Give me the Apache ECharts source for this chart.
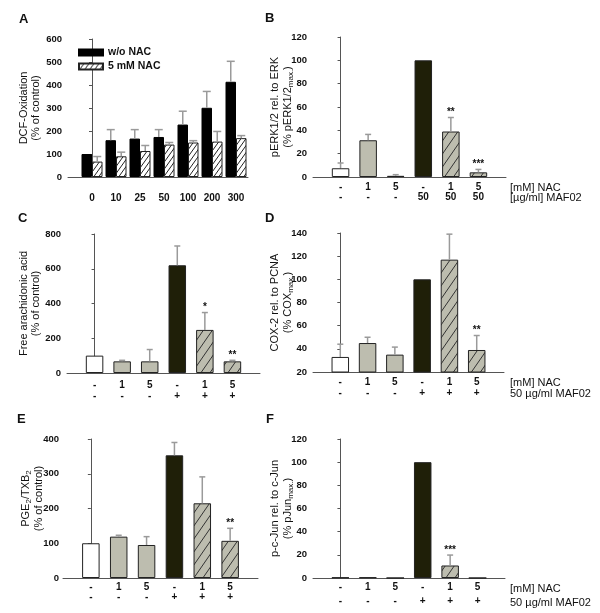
<!DOCTYPE html>
<html><head><meta charset="utf-8">
<script src="https://cdn.jsdelivr.net/npm/echarts@6/dist/echarts.min.js"></script>
<style>html,body{margin:0;padding:0;background:#fff}#c{width:600px;height:613px}</style>
</head><body><div id="c"></div>
<script>
// ---------- DATA ----------
const doseLabels = ['0','10','25','50','100','200','300'];
const aNoNAC = [100, 160, 167, 174, 228, 301, 414];
const aNoNACErr = [0, 46, 39, 32, 58, 71, 89];
const aNAC = [67, 90, 113, 141, 150, 154, 169];
const aNACErr = [22, 18, 24, 9, 8, 44, 11];

const nacRow = ['-','1','5','-','1','5'];
const mafRowB = ['-','-','-','50','50','50'];
const mafRowPM = ['-','-','-','+','+','+'];

const bVals = [7.5, 31.5, 1, 100, 39, 4];
const bErr = [4.5, 5, 1, 0, 12, 2.5];
const bStars = ['', '', '', '', '**', '***'];

const cVals = [100, 67, 67, 620, 248, 67];
const cErr = [0, 6, 68, 111, 100, 6];
const cStars = ['', '', '', '', '*', '**'];

const dVals = [33, 45, 35, 100, 117, 39];
const dErr = [11, 5, 6.5, 0, 22, 12.5];
const dStars = ['', '', '', '', '', '**'];

const eVals = [100, 119, 95, 353, 215, 107];
const eErr = [0, 4, 24, 37, 76, 36];
const eStars = ['', '', '', '', '', '**'];

const fVals = [0.4, 0.5, 0, 100, 10.8, 0];
const fErr = [0, 0, 0, 0, 9, 0];
const fStars = ['', '', '', '', '***', ''];

// ---------- STYLE ----------
const FONT = 'Liberation Sans, Arial, sans-serif';
const TXT = '#111';
const AXC = '#555';
const GRAY = '#bdbdaf';
const DARK = '#1f1f08';
const EB = '#9a9a9a';

function hatch(bg, line, w, h, lw) {
  const c = document.createElement('canvas');
  c.width = w; c.height = h;
  const g = c.getContext('2d');
  g.fillStyle = bg; g.fillRect(0, 0, w, h);
  g.strokeStyle = line; g.lineWidth = lw;
  for (const dx of [-w, 0, w]) { g.beginPath(); g.moveTo(dx, h); g.lineTo(dx + w, 0); g.stroke(); }
  return {image: c, repeat: 'repeat'};
}
const hatchA = hatch('#ffffff', '#222', 5, 7, 1);
const hatchGray = hatch(GRAY, '#333', 9, 13, 1);
const kindStyles = [
  {color: '#ffffff'}, {color: GRAY}, {color: GRAY}, {color: DARK}, {color: hatchGray}, {color: hatchGray}
];

const chart = echarts.init(document.getElementById('c'), null, {renderer: 'canvas'});

const grids = [
  {left: 68, top: 39, width: 180, height: 138},
  {left: 313, top: 37, width: 193, height: 140},
  {left: 67, top: 234, width: 193, height: 139},
  {left: 313, top: 233, width: 191, height: 139},
  {left: 63, top: 439, width: 195, height: 139},
  {left: 313, top: 439, width: 192, height: 139}
];

const richName = {
  n: {fontSize: 11, fontFamily: FONT, color: TXT, lineHeight: 12, verticalAlign: 'middle'},
  s: {fontSize: 8, fontFamily: FONT, color: TXT, lineHeight: 13.5, verticalAlign: 'bottom'}
};

function yAxis(i, min, max, interval, name, gap, pad, lblMargin) {
  return {
    type: 'value', gridIndex: i, min, max, interval,
    name, nameLocation: 'middle', nameGap: gap, nameRotate: 90, nameMoveOverlap: false,
    nameTextStyle: {fontFamily: FONT, fontSize: 11, color: TXT, rich: richName, padding: pad || 0},
    axisLine: {show: true, lineStyle: {color: AXC, width: 1}},
    axisTick: {show: true, length: 3, lineStyle: {color: AXC}},
    axisLabel: {fontFamily: FONT, fontSize: 9.5, fontWeight: 'bold', color: TXT, margin: lblMargin || 6},
    splitLine: {show: false}
  };
}

function xAxisTreat(i, row2, margin, lh, nameText, nameGap) {
  return {
    type: 'value', gridIndex: i, min: -1, max: 6, interval: 1,
    axisLine: {show: true, onZero: false, lineStyle: {color: AXC, width: 1}},
    axisTick: {show: false}, splitLine: {show: false},
    axisLabel: {
      fontFamily: FONT, fontSize: 10, fontWeight: 'bold', color: TXT, margin, lineHeight: lh,
      formatter: v => (Number.isInteger(v) && v >= 0 && v < 6) ? nacRow[v] + '\n' + row2[v] : ''
    },
    name: nameText, nameLocation: 'end', nameGap, nameMoveOverlap: false,
    nameTextStyle: {fontFamily: FONT, fontSize: 11, color: TXT, align: 'left', verticalAlign: 'top',
      lineHeight: lh, padding: [margin + 1, 0, 0, 0]}
  };
}

function errSeries(i, vals, errs, stars, dx, cap, name) {
  return {
    type: 'custom', xAxisIndex: i, yAxisIndex: i, name: name || ('err' + i), z: 5,
    silent: true, clip: false,
    data: vals.map((v, k) => [k, v, errs[k]]),
    renderItem: (params, api) => {
      const k = params.dataIndex;
      const x = api.value(0), v = api.value(1), e = api.value(2);
      const base = api.coord([x, v]);
      const top = api.coord([x, v + e]);
      const cx = base[0] + dx;
      const children = [];
      if (e > 0) {
        children.push({type: 'line', shape: {x1: cx, y1: base[1], x2: cx, y2: top[1]},
          style: {stroke: EB, lineWidth: 1.5}});
        children.push({type: 'line', shape: {x1: cx - cap / 2, y1: top[1], x2: cx + cap / 2, y2: top[1]},
          style: {stroke: EB, lineWidth: 1.5}});
      }
      if (stars && stars[k]) {
        children.push({type: 'text', style: {text: stars[k], x: cx, y: top[1] - 5, align: 'center',
          verticalAlign: 'middle', fontFamily: FONT, fontSize: 10, fontWeight: 'bold', fill: TXT}});
      }
      return {type: 'group', children};
    }
  };
}

function barSeries(i, vals) {
  return {
    type: 'bar', xAxisIndex: i, yAxisIndex: i, barWidth: 17.5, z: 3,
    data: vals.map((v, k) => ({value: [k, v], itemStyle: Object.assign({borderColor: '#222', borderWidth: 1}, kindStyles[k])}))
  };
}

const option = {
  animation: false,
  backgroundColor: '#fff',
  title: [
    {text: 'A', left: 19, top: 13},
    {text: 'B', left: 265, top: 12},
    {text: 'C', left: 18, top: 212},
    {text: 'D', left: 265, top: 212},
    {text: 'E', left: 17, top: 413},
    {text: 'F', left: 266, top: 413}
  ].map(t => Object.assign(t, {padding: 0, textStyle: {fontFamily: FONT, fontSize: 13, fontWeight: 'bold', color: TXT}})),
  legend: {
    data: ['w/o NAC', '5 mM NAC'], orient: 'vertical', left: 78, top: 47,
    itemWidth: 24, itemHeight: 6, itemGap: 3, icon: 'rect', padding: 0,
    textStyle: {fontFamily: FONT, fontSize: 10.5, fontWeight: 'bold', color: TXT}
  },
  grid: grids.map(g => Object.assign({containLabel: false}, g)),
  xAxis: [
    {
      type: 'value', gridIndex: 0, min: -1, max: 6.5, interval: 1,
      axisLine: {show: true, onZero: false, lineStyle: {color: AXC, width: 1}},
      axisTick: {show: false}, splitLine: {show: false},
      axisLabel: {fontFamily: FONT, fontSize: 10, fontWeight: 'bold', color: TXT, margin: 16,
        formatter: v => (Number.isInteger(v) && v >= 0 && v < 7) ? doseLabels[v] : ''}
    },
    xAxisTreat(1, mafRowB, 5, 10, '[mM] NAC\n[µg/ml] MAF02', 4),
    xAxisTreat(2, mafRowPM, 7, 11, '', 4),
    xAxisTreat(3, mafRowPM, 4, 11.5, '[mM] NAC\n50 µg/ml MAF02', 6),
    xAxisTreat(4, mafRowPM, 4.5, 10, '', 4),
    xAxisTreat(5, mafRowPM, 2.5, 14, '[mM] NAC\n50 µg/ml MAF02', 5)
  ],
  yAxis: [
    yAxis(0, 0, 600, 100, '{n|DCF-Oxidation}\n{n|(% of control)}', 26),
    yAxis(1, 0, 120, 20, '{n|pERK1/2 rel. to ERK}\n{n|(% pERK1/2}{s|max.}{n|)}', 18.5),
    yAxis(2, 0, 800, 200, '{n|Free arachidonic acid}\n{n|(% of control)}', 25),
    yAxis(3, 20, 140, 20, '{n|COX-2 rel. to PCNA}\n{n|(% COX}{s|max.}{n|)}', 18.5),
    yAxis(4, 0, 400, 100, '{n|PGE}{s|2}{n|/TXB}{s|2}\n{n|(% of control)}', 18, [0, 0, 0, 20], 4),
    yAxis(5, 0, 120, 20, '{n|p-c-Jun rel. to c-Jun}\n{n|(% pJun}{s|max.}{n|)}', 18.5)
  ],
  series: [
    {type: 'bar', name: 'w/o NAC', xAxisIndex: 0, yAxisIndex: 0, barWidth: 10.5, barGap: '0%', z: 3,
      itemStyle: {color: '#000', borderColor: '#000', borderWidth: 1},
      data: aNoNAC.map((v, k) => [k, v])},
    {type: 'bar', name: '5 mM NAC', xAxisIndex: 0, yAxisIndex: 0, barWidth: 10.5, barGap: '0%', z: 3,
      itemStyle: {color: hatchA, borderColor: '#222', borderWidth: 1},
      data: aNAC.map((v, k) => [k, v])},
    errSeries(0, aNoNAC, aNoNACErr, null, -5.25, 8, 'errA1'),
    errSeries(0, aNAC, aNACErr, null, 5.25, 8, 'errA2'),
    barSeries(1, bVals), errSeries(1, bVals, bErr, bStars, 0, 6),
    barSeries(2, cVals), errSeries(2, cVals, cErr, cStars, 0, 6),
    barSeries(3, dVals), errSeries(3, dVals, dErr, dStars, 0, 6),
    barSeries(4, eVals), errSeries(4, eVals, eErr, eStars, 0, 6),
    barSeries(5, fVals), errSeries(5, fVals, fErr, fStars, 0, 6)
  ]
};
chart.setOption(option);
</script>
</body></html>
